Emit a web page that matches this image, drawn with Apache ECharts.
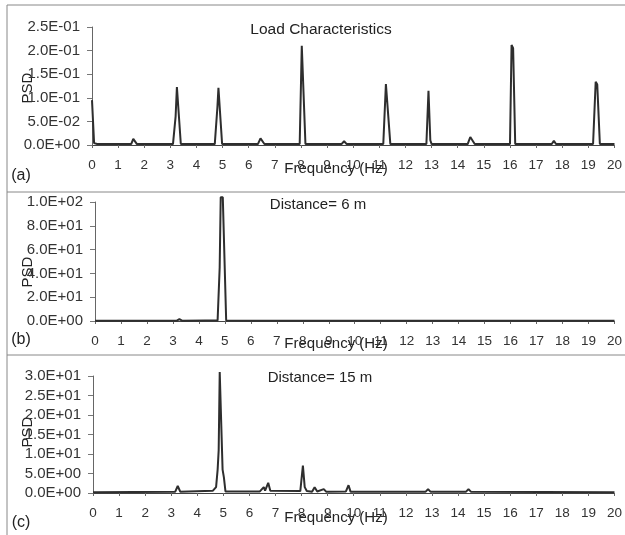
<!DOCTYPE html>
<html><head><meta charset="utf-8">
<script src="https://cdn.jsdelivr.net/npm/echarts@6/dist/echarts.min.js"></script>
<style>html,body{margin:0;padding:0;background:#fff}#c{width:625px;height:535px}</style>
</head><body><div id="c"></div>
<script>
// Tick labels
const xTicks = [0,1,2,3,4,5,6,7,8,9,10,11,12,13,14,15,16,17,18,19,20];
// Panel (a) Load Characteristics
const freqA = [0,0.08,0.2,1.5,1.58,1.65,1.72,3.1,3.2,3.25,3.3,3.4,4.7,4.8,4.84,4.88,4.98,6.35,6.45,6.52,6.6,7.95,8.03,8.08,8.17,9.55,9.65,9.75,11.15,11.25,11.32,11.42,12.8,12.88,12.95,13.0,14.38,14.48,14.55,14.65,16.0,16.06,16.12,16.2,17.6,17.68,17.76,19.18,19.28,19.34,19.44,20];
const psdA  = [0.095,0.004,0.002,0.002,0.013,0.013,0.002,0.002,0.06,0.123,0.12,0.002,0.002,0.08,0.121,0.118,0.002,0.002,0.014,0.012,0.002,0.002,0.21,0.21,0.002,0.002,0.008,0.002,0.002,0.129,0.126,0.002,0.002,0.115,0.01,0.002,0.002,0.017,0.016,0.002,0.002,0.212,0.205,0.002,0.002,0.009,0.002,0.002,0.134,0.128,0.002,0.002];
// Panel (b) Distance = 6 m
const freqB = [0,3.15,3.25,3.35,4.25,4.3,4.4,4.72,4.8,4.84,4.92,5.05,6,20];
const psdB  = [0.3,0.3,1.5,0.3,0.4,0.9,0.4,0.5,45,104,104,0.5,0.3,0.3];
// Panel (c) Distance = 15 m
const freqC = [0,3.15,3.25,3.35,4.6,4.72,4.78,4.82,4.86,4.92,4.97,5.02,5.08,6.4,6.55,6.6,6.72,6.8,7.95,8.05,8.12,8.2,8.4,8.5,8.6,8.85,8.95,9.7,9.8,9.88,12.75,12.85,12.95,14.3,14.4,14.5,20];
const psdC  = [0.2,0.3,1.8,0.3,0.6,1.5,6,11,31,31,6,4,0.4,0.4,1.5,0.6,2.6,0.6,0.5,7,1.5,0.5,0.3,1.5,0.4,1.0,0.3,0.4,2.0,0.3,0.3,1.0,0.3,0.3,1.0,0.3,0.2];

const zip = (f, p) => f.map((x, i) => [x, p[i]]);
const fmtE = v => {
  let s = Number(v).toExponential(1);
  let [m, e] = s.split('e');
  let sign = e[0] === '-' ? '-' : '+';
  let d = e.replace(/[+-]/, '');
  if (d.length < 2) d = '0' + d;
  return m + 'E' + sign + d;
};
const FONT = 'Liberation Sans, Arial, sans-serif';
const grids = [
  {left: 92, right: 10, top: 27, height: 118},
  {left: 95, right: 10, top: 202, height: 119},
  {left: 93, right: 10, top: 376, height: 117}
];
const yDefs = [
  {min: 0, max: 0.25, interval: 0.05},
  {min: 0, max: 100, interval: 20},
  {min: 0, max: 30, interval: 5}
];
const xAxes = grids.map((g, i) => ({
  gridIndex: i, type: 'value', min: 0, max: 20, interval: 1,
  axisLine: {lineStyle: {color: '#444', width: 1}},
  axisTick: {length: 3, lineStyle: {color: '#666'}},
  axisLabel: {color: '#333', fontFamily: FONT, fontSize: 13.5, margin: 13,
    formatter: v => xTicks.includes(v) ? String(v) : ''},
  splitLine: {show: false}
}));
const yAxes = yDefs.map((d, i) => ({
  gridIndex: i, type: 'value', min: d.min, max: d.max, interval: d.interval,
  axisLine: {show: true, lineStyle: {color: '#666', width: 1}},
  axisTick: {show: true, length: 5, lineStyle: {color: '#777'}},
  axisLabel: {color: '#333', fontFamily: FONT, fontSize: 15, margin: 12, formatter: fmtE},
  splitLine: {show: false}
}));
const mk = (f, p, i) => ({
  type: 'line', xAxisIndex: i, yAxisIndex: i, data: zip(f, p),
  showSymbol: false, clip: false, smooth: false,
  lineStyle: {color: '#2e2e2e', width: 2}
});
const txt = (x, y, t, extra) => Object.assign({type: 'text', x, y,
  style: Object.assign({text: t, fill: '#222', font: '15px ' + FONT, textAlign: 'center', textVerticalAlign: 'middle'}, extra || {})});
const line = (x1, y1, x2, y2) => ({type: 'line', shape: {x1, y1, x2, y2}, style: {stroke: '#888', lineWidth: 1}});
const chart = echarts.init(document.getElementById('c'), null, {renderer: 'canvas'});
chart.setOption({
  backgroundColor: '#fff',
  animation: false,
  grid: grids,
  xAxis: xAxes,
  yAxis: yAxes,
  series: [mk(freqA, psdA, 0), mk(freqB, psdB, 1), mk(freqC, psdC, 2)],
  graphic: [
    line(7, 5, 625, 5), line(7, 5, 7, 535), line(7, 192, 625, 192), line(7, 355, 625, 355),
    txt(321, 30, 'Load Characteristics', {font: '15.5px ' + FONT}),
    txt(318, 205, 'Distance= 6 m'),
    txt(320, 378, 'Distance= 15 m'),
    txt(336, 169, 'Frequency (Hz)'),
    txt(336, 344, 'Frequency (Hz)'),
    txt(336, 518, 'Frequency (Hz)'),
    txt(21, 176, '(a)', {font: '16px ' + FONT}),
    txt(21, 340, '(b)', {font: '16px ' + FONT}),
    txt(21, 523, '(c)', {font: '16px ' + FONT}),
    Object.assign(txt(28, 88, 'PSD'), {rotation: Math.PI / 2}),
    Object.assign(txt(28, 272, 'PSD'), {rotation: Math.PI / 2}),
    Object.assign(txt(28, 432, 'PSD'), {rotation: Math.PI / 2})
  ]
});
</script></body></html>
